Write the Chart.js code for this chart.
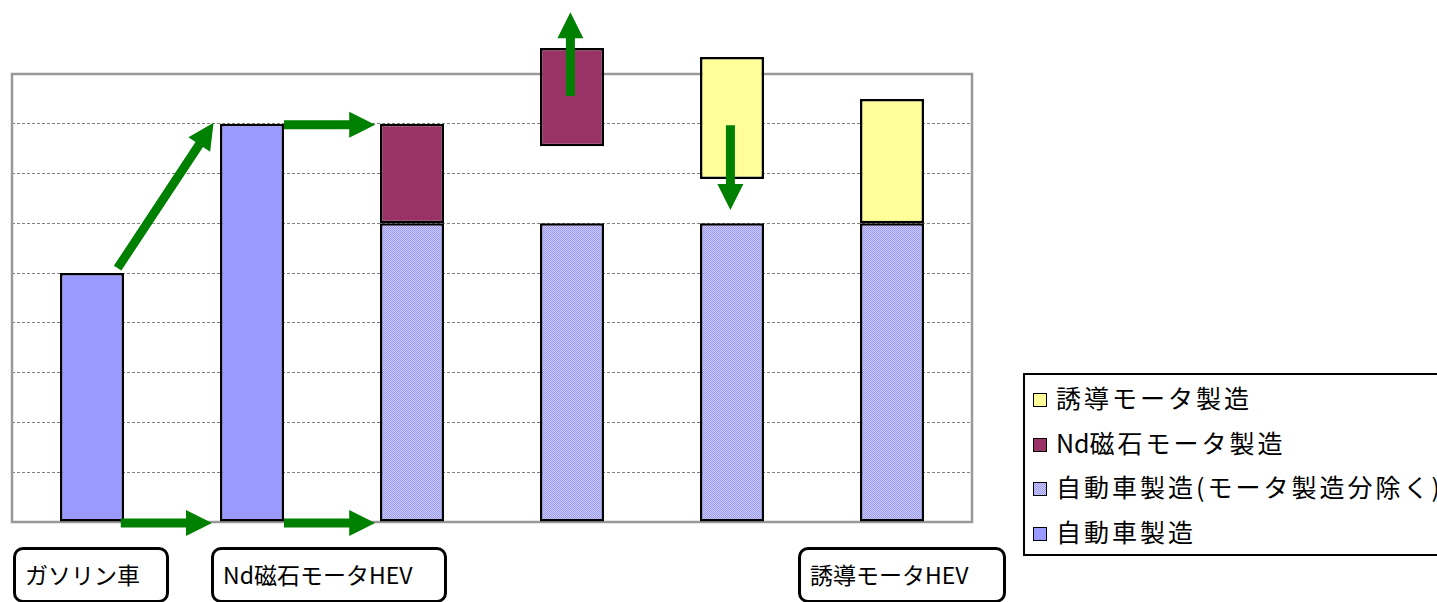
<!DOCTYPE html>
<html>
<head>
<meta charset="utf-8">
<script src="https://cdn.jsdelivr.net/npm/chart.js@4/dist/chart.umd.min.js"></script>
<style>
  body { margin: 0; background: #fff; font-family: "Noto Sans CJK JP", sans-serif; }
  #wrap { position: relative; width: 1437px; height: 602px; overflow: hidden; }
  #cht { position: absolute; left: 0; top: 0; }
  .legend {
    position: absolute; left: 1023px; top: 373px; width: 440px; height: 179px;
    border: 2px solid #000; background: #fff;
  }
  .legend div { position: absolute; left: 8px; height: 44px; line-height: 44px;
    font-size: 25px; letter-spacing: 3px; white-space: nowrap; color: #000; }
  .legend span { display: inline-block; width: 12px; height: 12px; border: 1px solid #000;
    margin-right: 9px; vertical-align: 1px; }
  .legend b { font-weight: normal; letter-spacing: 0; }
  .cap {
    position: absolute; top: 547px; height: 50px; line-height: 48px;
    border: 3px solid #000; border-radius: 10px; background: #fff;
    font-size: 23px; padding-left: 9px; box-sizing: content-box; white-space: nowrap;
  }
</style>
</head>
<body>
<div id="wrap">
  <canvas id="cht" width="1437" height="602"></canvas>
  <div class="legend" id="legend"></div>
  <div class="cap" style="left:13px;width:141px;">ガソリン車</div>
  <div class="cap" style="left:211px;width:221px;">Nd磁石モータHEV</div>
  <div class="cap" style="left:798px;width:193px;">誘導モータHEV</div>
</div>
<script>
// categories (hidden ticks)
const categories = ["ガソリン車", "Nd磁石モータHEV(車体)", "Nd磁石モータHEV", "Nd磁石モータ増", "誘導モータ減", "誘導モータHEV"];

// 自動車製造
const carMfg = [5, 8, null, null, null, null];
// 自動車製造（モータ製造分除く）
const carExMotor = [null, null, 6, 6, 6, 6];
// Nd磁石モータ製造 (floating: low/high)
const ndLow  = [null, null, 6, 7.55, null, null];
const ndHigh = [null, null, 8, 9.52, null, null];
// 誘導モータ製造 (floating: low/high)
const indLow  = [null, null, null, null, 6.89, 6];
const indHigh = [null, null, null, null, 9.34, 8.5];

const yMax = 9;

// green arrows, in category index / value units
const arrows = [
    {from: [0.16, 5.1], to: [0.76, 8.02]},
    {from: [1.2, 7.98], to: [1.77, 7.98]},
    {from: [0.18, -0.02], to: [0.75, -0.02]},
    {from: [1.2, -0.02], to: [1.77, -0.02]},
    {from: [2.99, 8.56], to: [2.99, 10.24]},
    {from: [3.99, 7.97], to: [3.99, 6.27]}
];

const colInd = "#FFFF99";
const colNd = "#993366";
const colCar = "#9999FF";

function makePattern() {
    const c = document.createElement("canvas");
    c.width = 2; c.height = 2;
    const g = c.getContext("2d");
    g.fillStyle = "#CCCCFF"; g.fillRect(0, 0, 2, 2);
    g.fillStyle = "#9999FF"; g.fillRect(0, 0, 1, 1); g.fillRect(1, 1, 1, 1);
    return g.createPattern(c, "repeat");
}
const pat = makePattern();

const pair = (lo, hi) => lo.map((v, i) => v === null ? null : [v, hi[i]]);

const legendItems = [
    {label: "誘導モータ製造", bg: colInd},
    {label: "<b>Nd</b>磁石モータ製造", bg: colNd},
    {label: "自動車製造(モータ製造分除く)", bg: "repeating-conic-gradient(#9999FF 0 25%, #CCCCFF 0 50%) 0 0/2px 2px"},
    {label: "自動車製造", bg: colCar}
];
const lg = document.getElementById("legend");
legendItems.forEach((it, i) => {
    const d = document.createElement("div");
    d.style.top = (0 + i * 44.5) + "px";
    d.innerHTML = '<span style="background:' + it.bg + '"></span>' + it.label;
    lg.appendChild(d);
});

const frameAndArrows = {
    id: "frameAndArrows",
    beforeDatasetsDraw(chart) {
        const {ctx, chartArea: a} = chart;
        ctx.save();
        ctx.strokeStyle = "#999";
        ctx.lineWidth = 2.5;
        ctx.strokeRect(a.left, a.top, a.right - a.left, a.bottom - a.top);
        ctx.restore();
    },
    afterDatasetsDraw(chart) {
        const {ctx, scales: {x, y}} = chart;
        ctx.save();
        ctx.fillStyle = "#008000";
        arrows.forEach(ar => {
            const x1 = x.getPixelForValue(ar.from[0]), y1 = y.getPixelForValue(ar.from[1]);
            const x2 = x.getPixelForValue(ar.to[0]), y2 = y.getPixelForValue(ar.to[1]);
            const ang = Math.atan2(y2 - y1, x2 - x1);
            const len = Math.hypot(x2 - x1, y2 - y1);
            const head = 26, hw = 13, sw = 4.5;
            ctx.save();
            ctx.translate(x1, y1);
            ctx.rotate(ang);
            ctx.beginPath();
            ctx.moveTo(0, -sw);
            ctx.lineTo(len - head, -sw);
            ctx.lineTo(len - head, -hw);
            ctx.lineTo(len, 0);
            ctx.lineTo(len - head, hw);
            ctx.lineTo(len - head, sw);
            ctx.lineTo(0, sw);
            ctx.closePath();
            ctx.fill();
            ctx.restore();
        });
        ctx.restore();
    }
};

new Chart(document.getElementById("cht"), {
    type: "bar",
    data: {
        labels: categories,
        datasets: [
            {label: "誘導モータ製造", data: pair(indLow, indHigh), backgroundColor: colInd},
            {label: "Nd磁石モータ製造", data: pair(ndLow, ndHigh), backgroundColor: colNd},
            {label: "自動車製造(モータ製造分除く)", data: carExMotor, backgroundColor: pat},
            {label: "自動車製造", data: carMfg, backgroundColor: colCar}
        ]
    },
    options: {
        responsive: false,
        animation: false,
        devicePixelRatio: 1,
        layout: {padding: {left: 12, right: 465, top: 74, bottom: 80}},
        datasets: {
            bar: {
                borderColor: "#000",
                borderWidth: 2.5,
                borderSkipped: false,
                barPercentage: 0.4,
                categoryPercentage: 1,
                clip: false
            }
        },
        plugins: {legend: {display: false}, tooltip: {enabled: false}},
        scales: {
            x: {
                stacked: true,
                display: false,
                grid: {display: false}
            },
            y: {
                min: 0,
                max: yMax,
                ticks: {display: false, stepSize: 1},
                grid: {color: "#808080", lineWidth: 1, drawTicks: false},
                border: {display: false, dash: [3, 2]}
            }
        }
    },
    plugins: [frameAndArrows]
});
</script>
</body>
</html>
